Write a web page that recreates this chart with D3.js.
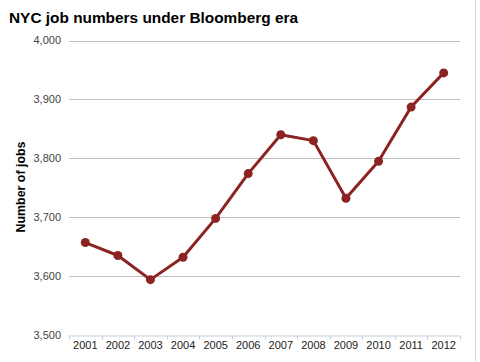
<!DOCTYPE html>
<html><head><meta charset="utf-8">
<script src="https://cdn.jsdelivr.net/npm/d3@7"></script>
<style>body{margin:0;background:#fff}svg{display:block}</style>
</head><body>
<script>
const years = ["2001","2002","2003","2004","2005","2006","2007","2008","2009","2010","2011","2012"];
const jobs = [3657,3635,3594,3632,3698,3774,3840,3830,3732,3795,3887,3945];
const yTicks = [3500,3600,3700,3800,3900,4000];
const title = "NYC job numbers under Bloomberg era";
const yLabel = "Number of jobs";

const W=480,H=362;
const svg=d3.select("body").append("svg").attr("width",W).attr("height",H);
const x=d3.scaleBand().domain(years).range([69,460]);
const y=d3.scaleLinear().domain([3500,4000]).range([335,40.5]);

svg.append("line").attr("x1",475.5).attr("x2",475.5).attr("y1",0).attr("y2",H).attr("stroke","#d8d8d8");

svg.append("text").attr("x",9).attr("y",23).text(title)
  .attr("font-family","Liberation Sans, Arial, sans-serif").attr("font-weight","bold").attr("font-size",15.4).attr("fill","#000");

const gy=svg.append("g");
gy.selectAll("line").data(yTicks.filter(d=>d>3500)).join("line")
  .attr("x1",69).attr("x2",460).attr("y1",d=>Math.round(y(d))+0.5).attr("y2",d=>Math.round(y(d))+0.5)
  .attr("stroke","#c0c0c0").attr("stroke-width",1);
gy.selectAll("text").data(yTicks).join("text")
  .attr("x",61).attr("y",d=>y(d)).attr("dy","0.35em").attr("text-anchor","end")
  .attr("font-family","Liberation Sans, Arial, sans-serif").attr("font-size",11).attr("fill","#444")
  .text(d3.format(","));

const xAxis=d3.axisBottom(x).tickSizeOuter(0).tickSize(0).tickPadding(6);
const gx=svg.append("g").attr("transform","translate(0,335.5)").call(xAxis);
gx.select(".domain").attr("stroke","#c0d0e0");
gx.selectAll("text").attr("font-family","Liberation Sans, Arial, sans-serif").attr("font-size",11).attr("fill","#222");
const edges=years.map(d=>x(d)).concat([x.range()[1]]);
gx.selectAll(".edge").data(edges).join("line").attr("class","edge")
  .attr("x1",d=>Math.round(d)+0.5).attr("x2",d=>Math.round(d)+0.5).attr("y1",0).attr("y2",4).attr("stroke","#c0d0e0");

const cx=d=>x(d)+x.bandwidth()/2;
const line=d3.line().x((d,i)=>cx(years[i])).y(d=>y(d));
svg.append("path").datum(jobs).attr("d",line).attr("fill","none").attr("stroke","#8b2323").attr("stroke-width",3).attr("stroke-linejoin","round");
svg.selectAll(".pt").data(jobs).join("circle").attr("class","pt")
  .attr("cx",(d,i)=>cx(years[i])).attr("cy",d=>y(d)).attr("r",4.5).attr("fill","#8b2323");

svg.append("text").attr("transform",`translate(20.5,${187}) rotate(-90)`).attr("text-anchor","middle").attr("dy","0.35em")
  .attr("font-family","Liberation Sans, Arial, sans-serif").attr("font-weight","bold").attr("font-size",12.4).attr("fill","#000")
  .text(yLabel);
</script>
</body></html>
